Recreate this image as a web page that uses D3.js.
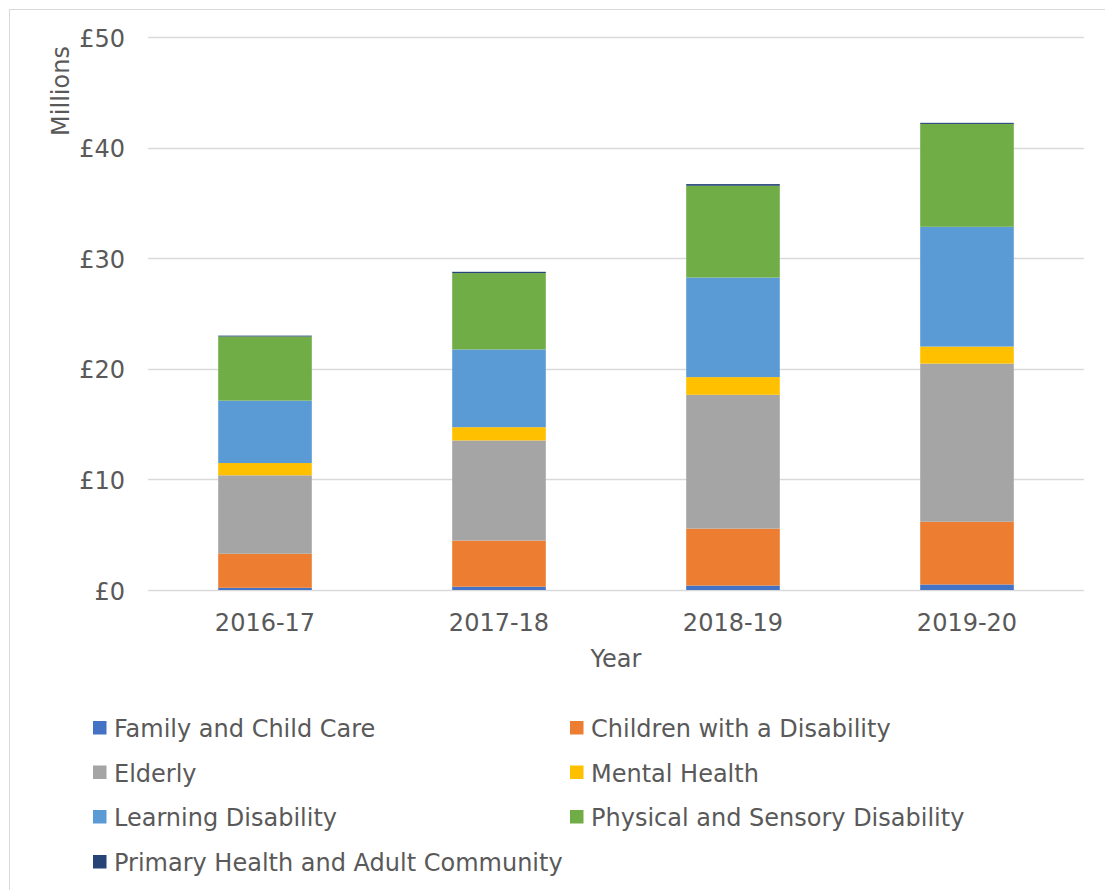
<!DOCTYPE html>
<html><head><meta charset="utf-8">
<script src="https://cdn.jsdelivr.net/npm/d3@7"></script>
<style>
html,body{margin:0;padding:0;background:#fff;}
text{font-family:Verdana,"DejaVu Sans",sans-serif;fill:#595959;}
</style></head>
<body><svg id="c" width="1105" height="890"></svg>
<script>
const years = ["2016-17","2017-18","2018-19","2019-20"];
const seriesNames = ["Family and Child Care","Children with a Disability","Elderly","Mental Health","Learning Disability","Physical and Sensory Disability","Primary Health and Adult Community"];
const seriesColors = ["#4472c4","#ed7d31","#a5a5a5","#ffc000","#5b9bd5","#70ad47","#264478"];
const familyChildCare = [0.2, 0.3, 0.4, 0.5];
const childrenDisability = [3.08, 4.17, 5.15, 5.67];
const elderly = [7.09, 9.05, 12.1, 14.3];
const mentalHealth = [1.11, 1.2, 1.6, 1.54];
const learningDisability = [5.64, 7.03, 9.0, 10.83];
const physicalSensory = [5.8, 6.9, 8.3, 9.3];
const primaryHealth = [0.08, 0.12, 0.15, 0.1];
const yTicks = [0,10,20,30,40,50];

const seriesValues = [familyChildCare, childrenDisability, elderly, mentalHealth, learningDisability, physicalSensory, primaryHealth];
const rows = years.map((y,i)=>{const r={year:y}; seriesNames.forEach((n,j)=>r[n]=seriesValues[j][i]); return r;});

const FS = "24px";
const svg = d3.select("#c");
// outer border
svg.append("rect").attr("x",9.5).attr("y",9.5).attr("width",1105).attr("height",900)
  .attr("fill","none").attr("stroke","#d9d9d9").attr("stroke-width",1);

const x = d3.scaleBand().domain(years).range([148,1084]).paddingInner(0.6).paddingOuter(0.3);
const y = d3.scaleLinear().domain([0,50]).range([590,37]);

// gridlines
svg.append("g").selectAll("line").data(yTicks).join("line")
  .attr("x1",148).attr("x2",1084).attr("y1",d=>Math.round(y(d))+0.5).attr("y2",d=>Math.round(y(d))+0.5)
  .attr("stroke","#d9d9d9").attr("stroke-width",1.5);

const stack = d3.stack().keys(seriesNames)(rows);
svg.append("g").selectAll("g").data(stack).join("g")
  .attr("fill",(d,i)=>seriesColors[i])
  .selectAll("rect").data(d=>d).join("rect")
  .attr("x",d=>x(d.data.year)).attr("width",x.bandwidth())
  .attr("y",d=>y(d[1])).attr("height",d=>y(d[0])-y(d[1]));

// y axis labels
const yAxis = d3.axisLeft(y).tickValues(yTicks).tickFormat(d=>"£"+d).tickSize(0).tickPadding(0);
const ga = svg.append("g").attr("transform","translate(125,0)").call(yAxis);
ga.select(".domain").remove();
ga.selectAll("text").attr("font-size",FS).attr("fill","#595959").attr("font-family",null).attr("dy","0.38em");

// x axis labels
const xAxis = d3.axisBottom(x).tickSize(0).tickPadding(0);
const gx = svg.append("g").attr("transform","translate(0,631)").call(xAxis);
gx.select(".domain").remove();
gx.selectAll("text").attr("font-size",FS).attr("fill","#595959").attr("font-family",null).attr("y",0).attr("dy","0");

svg.append("text").attr("x",616).attr("y",667).attr("text-anchor","middle").attr("font-size",FS).text("Year");
svg.append("text").attr("transform","translate(69,91) rotate(-90)").attr("text-anchor","middle").attr("font-size",FS).text("Millions");

// legend
const legX = [93, 570], legY = [737, 781.5, 826, 871];
const leg = svg.append("g").selectAll("g").data(seriesNames).join("g")
  .attr("transform",(d,i)=>`translate(${legX[i%2]},${legY[Math.floor(i/2)]})`);
leg.append("rect").attr("x",0).attr("y",-16).attr("width",13.5).attr("height",13.5).attr("fill",(d,i)=>seriesColors[i]);
leg.append("text").attr("x",21).attr("y",0).attr("font-size",FS).text(d=>d);
</script></body></html>
